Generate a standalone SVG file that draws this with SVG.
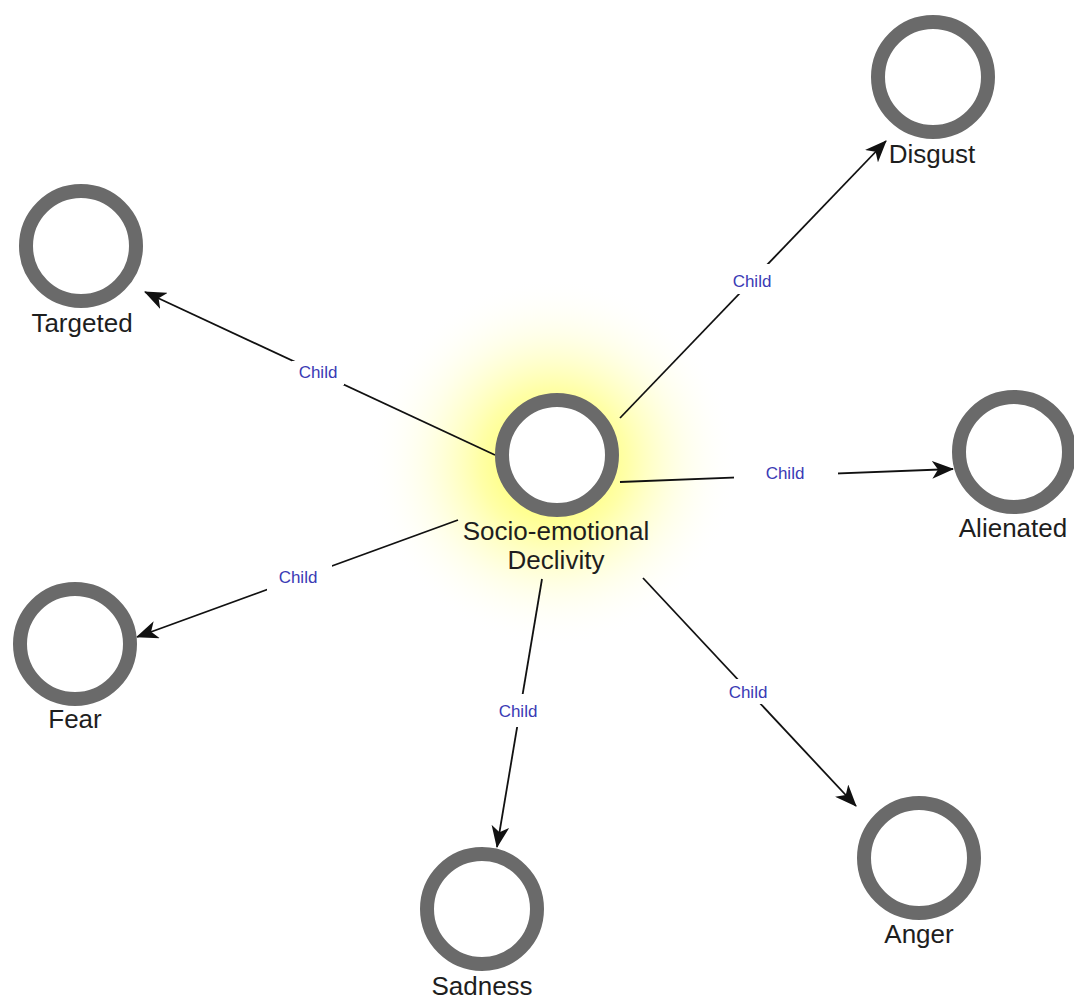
<svg xmlns="http://www.w3.org/2000/svg" width="1074" height="1004" viewBox="0 0 1074 1004">
<style>
.ring{fill:#ffffff;stroke:#6a6a6a;stroke-width:14}
.lbl{font-family:"Liberation Sans",Arial,sans-serif;font-size:26px;fill:#1e1e1e;text-anchor:middle}
.edge{stroke:#111;stroke-width:1.8;fill:none;marker-end:url(#arr)}
.elbl{font-family:"Liberation Sans",Arial,sans-serif;font-size:17px;fill:#3a3ab5;text-anchor:middle}
.ebg{fill:#ffffff}
</style>
<defs>
<marker id="arr" markerUnits="userSpaceOnUse" markerWidth="22" markerHeight="18" viewBox="0 0 22 18" refX="21" refY="9" orient="auto">
<path d="M0,0 L22,9 L0,18 L6,9 z" fill="#111"/>
</marker>
<radialGradient id="glow" cx="0.5" cy="0.5" r="0.5">
<stop offset="0" stop-color="#ffff30" stop-opacity="0.95"/>
<stop offset="0.4" stop-color="#ffff60" stop-opacity="0.55"/>
<stop offset="0.7" stop-color="#ffffa0" stop-opacity="0.22"/>
<stop offset="1" stop-color="#ffffff" stop-opacity="0"/>
</radialGradient>
</defs>
<rect width="1074" height="1004" fill="#ffffff"/>
<circle cx="553" cy="462" r="185" fill="url(#glow)"/>
<g id="connectors">
<line class="edge" x1="495" y1="455" x2="145" y2="292"/>
<line class="edge" x1="620" y1="418" x2="886" y2="141"/>
<line class="edge" x1="620" y1="482" x2="953" y2="469"/>
<line class="edge" x1="458" y1="520" x2="137" y2="637"/>
<line class="edge" x1="542" y1="579" x2="497" y2="847"/>
<line class="edge" x1="643" y1="578" x2="856" y2="806"/>
<rect class="ebg" x="292" y="361" width="52" height="24"/>
<text class="elbl" x="318" y="378">Child</text>
<rect class="ebg" x="722" y="264" width="60" height="30"/>
<text class="elbl" x="752" y="287">Child</text>
<rect class="ebg" x="734" y="460" width="104" height="26"/>
<text class="elbl" x="785" y="479">Child</text>
<rect class="ebg" x="267" y="563" width="65" height="28"/>
<text class="elbl" x="298" y="583">Child</text>
<rect class="ebg" x="490" y="694" width="56" height="33"/>
<text class="elbl" x="518" y="717">Child</text>
<rect class="ebg" x="720" y="679" width="56" height="25"/>
<text class="elbl" x="748" y="698">Child</text>
</g>
<g id="node-center">
<circle class="ring" cx="557" cy="455" r="55"/>
<text class="lbl" x="556" y="540">Socio-emotional</text>
<text class="lbl" x="556" y="569">Declivity</text>
</g>
<g id="node-targeted">
<circle class="ring" cx="81" cy="246" r="55"/>
<text class="lbl" x="82" y="332">Targeted</text>
</g>
<g id="node-disgust">
<circle class="ring" cx="933" cy="77" r="55"/>
<text class="lbl" x="932" y="163">Disgust</text>
</g>
<g id="node-alienated">
<circle class="ring" cx="1014" cy="452" r="55"/>
<text class="lbl" x="1013" y="537">Alienated</text>
</g>
<g id="node-fear">
<circle class="ring" cx="75" cy="644" r="55"/>
<text class="lbl" x="75" y="728">Fear</text>
</g>
<g id="node-sadness">
<circle class="ring" cx="482" cy="909" r="55"/>
<text class="lbl" x="482" y="995">Sadness</text>
</g>
<g id="node-anger">
<circle class="ring" cx="919" cy="858" r="55"/>
<text class="lbl" x="919" y="943">Anger</text>
</g>
</svg>
